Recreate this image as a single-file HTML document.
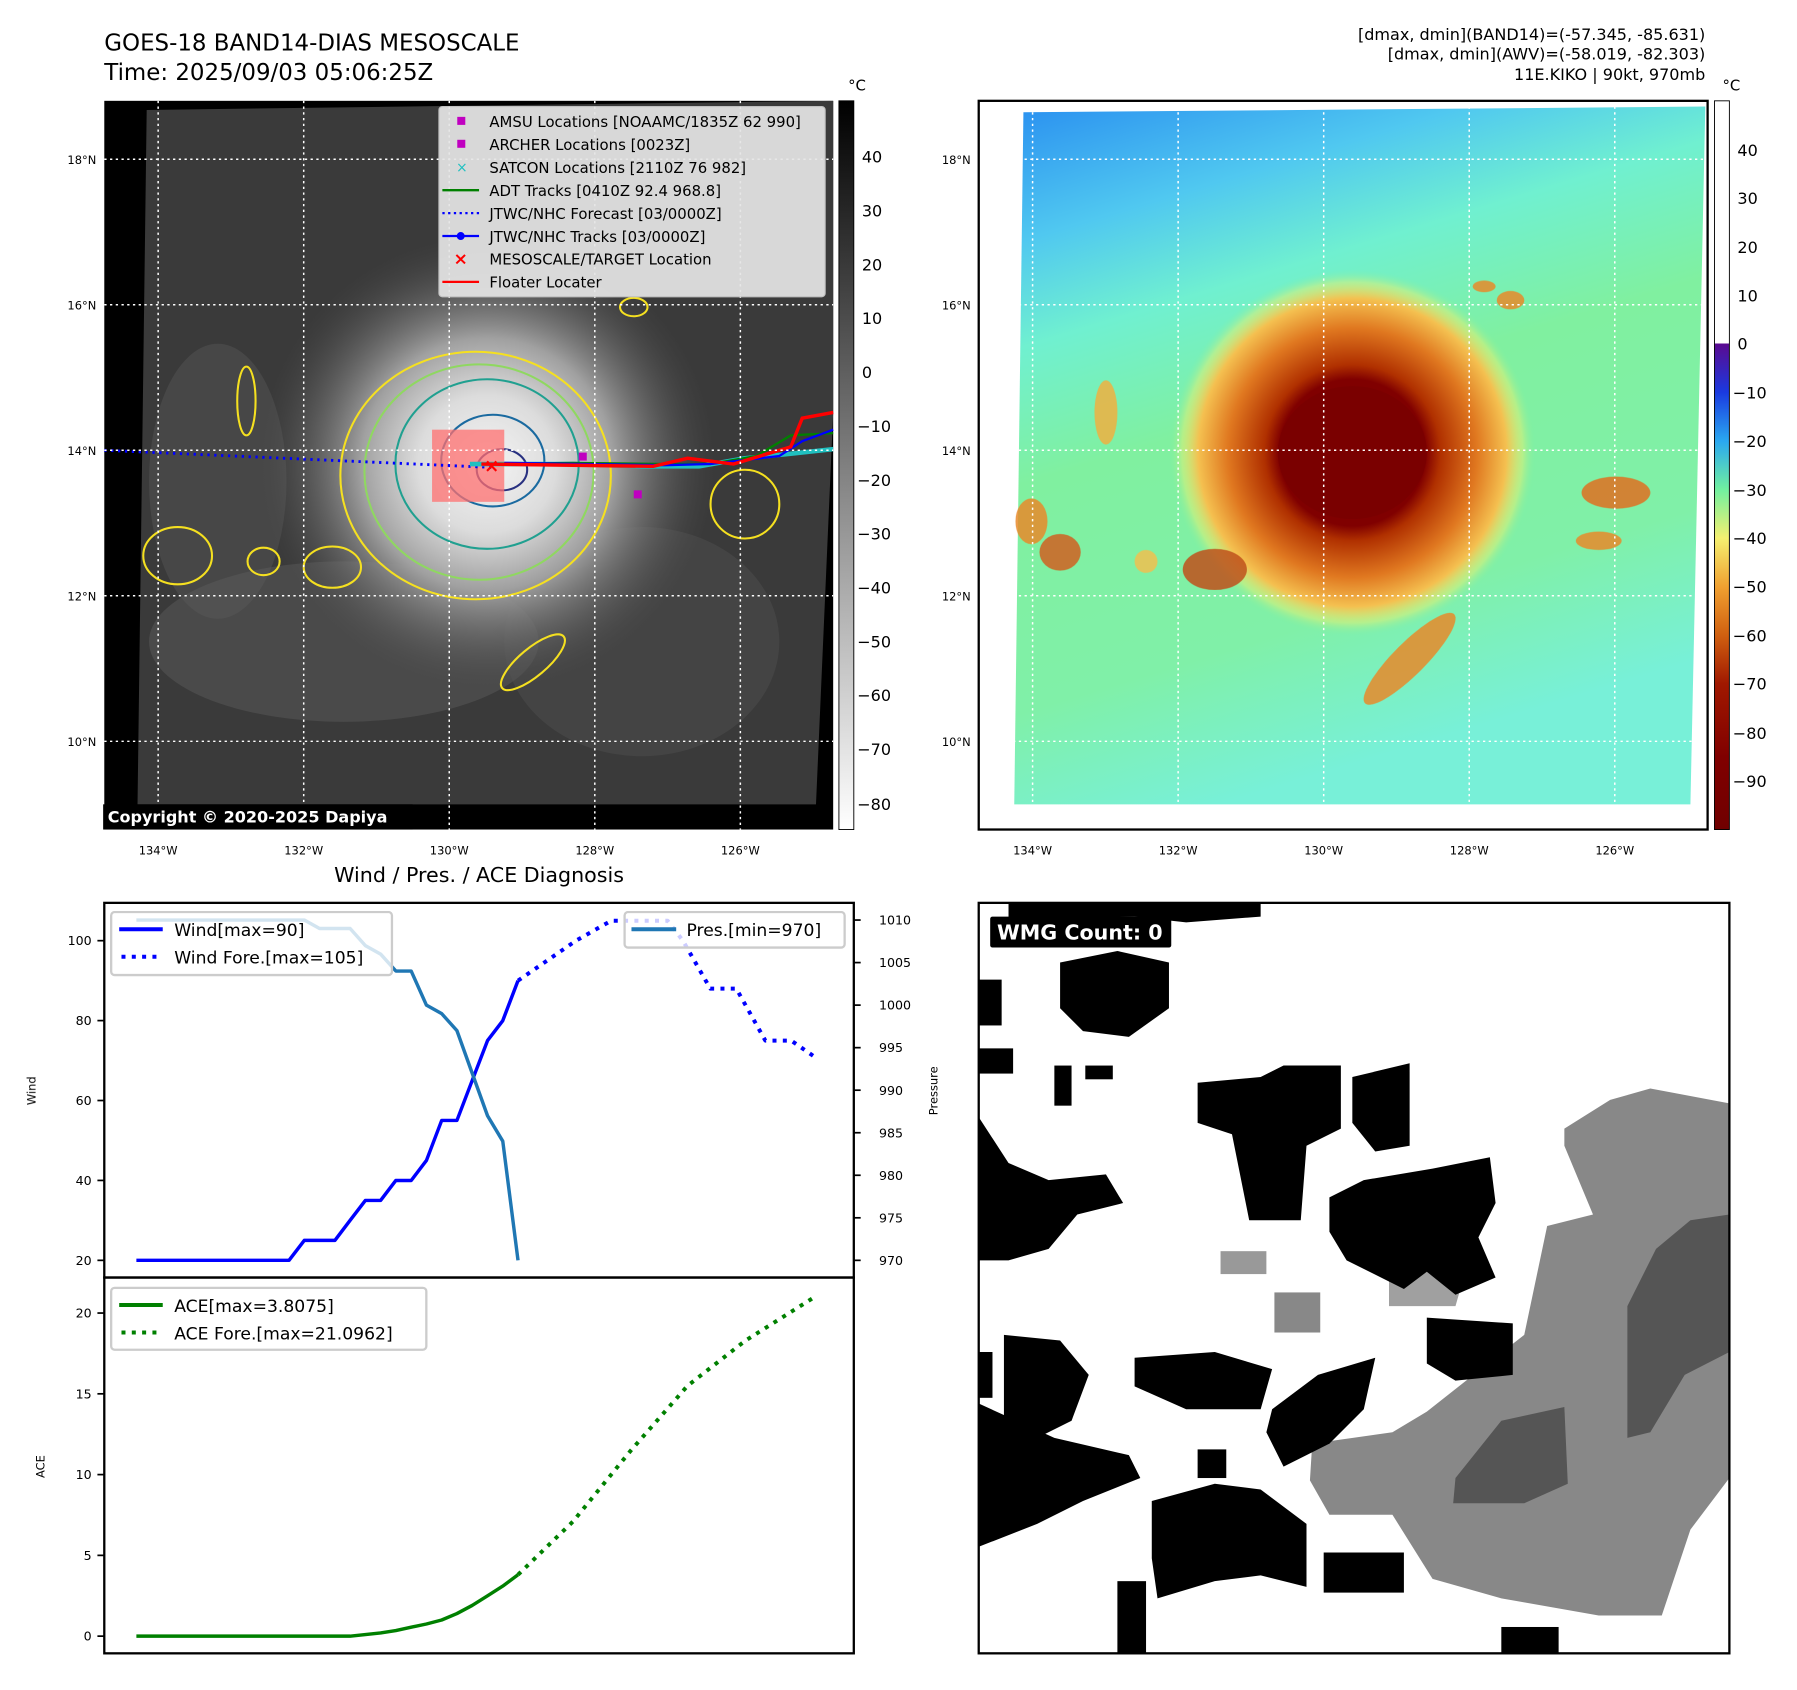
<!DOCTYPE html>
<html><head><meta charset="utf-8"><style>
html,body{margin:0;padding:0;background:#fff;}
svg{display:block;font-family:"DejaVu Sans","Liberation Sans",sans-serif;}
</style></head><body>
<svg id="fig" width="1797" height="1690" viewBox="0 0 1568 1475" preserveAspectRatio="none">
<defs>
<radialGradient id="cloud" cx="425" cy="405" r="200" gradientUnits="userSpaceOnUse">
<stop offset="0" stop-color="#f4f4f4"/><stop offset="0.3" stop-color="#dcdcdc"/><stop offset="0.55" stop-color="#a0a0a0"/><stop offset="1" stop-color="#4a4a4a" stop-opacity="0"/></radialGradient>
<linearGradient id="cbgray" x1="0" y1="0" x2="0" y2="1"><stop offset="0" stop-color="#000"/><stop offset="1" stop-color="#fff"/></linearGradient>
<linearGradient id="cbcol" x1="0" y1="0" x2="0" y2="1">
<stop offset="0" stop-color="#fff"/><stop offset="0.333" stop-color="#fff"/><stop offset="0.333" stop-color="#5a0a90"/>
<stop offset="0.4" stop-color="#1a3ae0"/><stop offset="0.467" stop-color="#2aa8f0"/><stop offset="0.533" stop-color="#70f0a0"/>
<stop offset="0.6" stop-color="#f4f070"/><stop offset="0.667" stop-color="#f0a030"/><stop offset="0.733" stop-color="#d06010"/>
<stop offset="0.8" stop-color="#a01800"/><stop offset="0.9" stop-color="#800000"/><stop offset="1" stop-color="#700000"/></linearGradient>
<linearGradient id="skybg" x1="0" y1="0" x2="0.3" y2="1">
<stop offset="0" stop-color="#2a90f0"/><stop offset="0.18" stop-color="#50c8f0"/><stop offset="0.32" stop-color="#70f0d0"/><stop offset="0.5" stop-color="#80f0a0"/><stop offset="0.8" stop-color="#80f0a8"/><stop offset="1" stop-color="#78f0d8"/></linearGradient>
<radialGradient id="storm" cx="1180" cy="395" r="160" gradientUnits="userSpaceOnUse">
<stop offset="0" stop-color="#7a0000"/><stop offset="0.4" stop-color="#800000"/><stop offset="0.48" stop-color="#b03000"/><stop offset="0.68" stop-color="#e07820"/><stop offset="0.84" stop-color="#f4c050"/><stop offset="0.93" stop-color="#e8f070" stop-opacity="0.5"/><stop offset="1" stop-color="#80f0a0" stop-opacity="0"/></radialGradient>
</defs>

<text x="91" y="44" font-size="20">GOES-18 BAND14-DIAS MESOSCALE</text>
<text x="91" y="70" font-size="20">Time: 2025/09/03 05:06:25Z</text>
<g font-size="14" text-anchor="end">
<text x="1488" y="35">[dmax, dmin](BAND14)=(-57.345, -85.631)</text>
<text x="1488" y="52">[dmax, dmin](AWV)=(-58.019, -82.303)</text>
<text x="1488" y="70">11E.KIKO | 90kt, 970mb</text></g>

<g>
<rect x="91" y="88" width="636" height="636" fill="#000"/>
<polygon points="128,96 727,88 727,360 712,702 120,702 124,400" fill="#3a3a3a"/>
<ellipse cx="300" cy="560" rx="170" ry="70" fill="#5a5a5a" opacity="0.5"/>
<ellipse cx="560" cy="560" rx="120" ry="100" fill="#555" opacity="0.4"/>
<ellipse cx="190" cy="420" rx="60" ry="120" fill="#5c5c5c" opacity="0.4"/>
<circle cx="425" cy="405" r="200" fill="url(#cloud)"/>
<g fill="none" stroke-width="1.8">
<ellipse cx="415" cy="415" rx="118" ry="108" stroke="#f5e020"/>
<ellipse cx="418" cy="412" rx="100" ry="94" stroke="#8fd860"/>
<ellipse cx="425" cy="405" rx="80" ry="74" stroke="#20a090"/>
<ellipse cx="430" cy="402" rx="45" ry="40" stroke="#1a6aa0"/>
<ellipse cx="438" cy="410" rx="22" ry="18" stroke="#283080"/>
<ellipse cx="155" cy="485" rx="30" ry="25" stroke="#f5e020"/>
<ellipse cx="290" cy="495" rx="25" ry="18" stroke="#f5e020"/>
<ellipse cx="650" cy="440" rx="30" ry="30" stroke="#f5e020"/>
<ellipse cx="465" cy="578" rx="35" ry="12" transform="rotate(-40 465 578)" stroke="#f5e020"/>
<ellipse cx="553" cy="268" rx="12" ry="8" stroke="#f5e020"/>
<ellipse cx="215" cy="350" rx="8" ry="30" stroke="#f5e020"/>
<ellipse cx="230" cy="490" rx="14" ry="12" stroke="#f5e020"/>
</g>
<rect x="377" y="375" width="63" height="63" fill="#ff7070" opacity="0.75"/>
<line x1="91" y1="393" x2="430" y2="408" stroke="#0000ff" stroke-width="2.5" stroke-dasharray="2 4"/>
<polyline points="410,405 500,405 560,407 610,407 650,400 690,396 727,392" fill="none" stroke="#20c0c0" stroke-width="4"/>
<polyline points="425,405 500,404 580,405 620,405 660,398 690,380 727,378" fill="none" stroke="#008000" stroke-width="2"/>
<polyline points="440,404 580,406 620,405 680,398 700,385 727,375" fill="none" stroke="#0000ff" stroke-width="2"/>
<polyline points="420,405 570,407 600,400 640,405 690,390 700,365 727,360" fill="none" stroke="#ff0000" stroke-width="3"/>
<rect x="505" y="395" width="7" height="7" fill="#c000c0"/><rect x="553" y="428" width="7" height="7" fill="#c000c0"/>
<text x="429" y="412" fill="#f00" font-size="16" font-weight="bold" text-anchor="middle">×</text>
<g stroke="#fff" stroke-width="1.3" stroke-dasharray="2 3">
<line x1="138" y1="88" x2="138" y2="724"/><line x1="265" y1="88" x2="265" y2="724"/><line x1="392" y1="88" x2="392" y2="724"/><line x1="519" y1="88" x2="519" y2="724"/><line x1="646" y1="88" x2="646" y2="724"/>
<line x1="91" y1="139" x2="727" y2="139"/><line x1="91" y1="266" x2="727" y2="266"/><line x1="91" y1="393" x2="727" y2="393"/><line x1="91" y1="520" x2="727" y2="520"/><line x1="91" y1="647" x2="727" y2="647"/></g>
<rect x="90" y="702" width="270" height="22" fill="#000"/>
<text x="94" y="718" fill="#fff" font-size="14" font-weight="bold">Copyright © 2020-2025 Dapiya</text>
</g>
<g font-size="13">
<rect x="383" y="93" width="337" height="166" fill="#e6e6e6" opacity="0.92" stroke="#ccc" rx="3"/>
<rect x="399" y="102" width="7" height="7" fill="#c000c0"/><text x="427" y="111">AMSU Locations [NOAAMC/1835Z 62 990]</text>
<rect x="399" y="122" width="7" height="7" fill="#c000c0"/><text x="427" y="131">ARCHER Locations [0023Z]</text>
<text x="403" y="150" fill="#20c0c0" font-size="12" text-anchor="middle">×</text><text x="427" y="151">SATCON Locations [2110Z 76 982]</text>
<line x1="386" y1="166" x2="418" y2="166" stroke="#008000" stroke-width="2"/><text x="427" y="171">ADT Tracks [0410Z 92.4 968.8]</text>
<line x1="386" y1="186" x2="418" y2="186" stroke="#0000ff" stroke-width="2" stroke-dasharray="2 3"/><text x="427" y="191">JTWC/NHC Forecast [03/0000Z]</text>
<line x1="386" y1="206" x2="418" y2="206" stroke="#0000ff" stroke-width="2"/><circle cx="402" cy="206" r="3.5" fill="#0000ff"/><text x="427" y="211">JTWC/NHC Tracks [03/0000Z]</text>
<text x="402" y="231" fill="#f00" font-size="15" font-weight="bold" text-anchor="middle">×</text><text x="427" y="231">MESOSCALE/TARGET Location</text>
<line x1="386" y1="246" x2="418" y2="246" stroke="#ff0000" stroke-width="2"/><text x="427" y="251">Floater Locater</text>
</g>
<g font-size="14">
<rect x="732" y="88" width="13" height="636" fill="url(#cbgray)" stroke="#000" stroke-width="0.8"/>
<text x="740" y="79" font-size="13">°C</text>
<text x="752" y="142">40</text><text x="752" y="189">30</text><text x="752" y="236">20</text><text x="752" y="283">10</text><text x="752" y="330">0</text><text x="748" y="377">−10</text><text x="748" y="424">−20</text><text x="748" y="471">−30</text><text x="748" y="518">−40</text><text x="748" y="565">−50</text><text x="748" y="612">−60</text><text x="748" y="659">−70</text><text x="748" y="707">−80</text>
</g>
<g font-size="10">
<g text-anchor="end"><text x="84" y="143">18°N</text><text x="84" y="270">16°N</text><text x="84" y="397">14°N</text><text x="84" y="524">12°N</text><text x="84" y="651">10°N</text></g>
<g text-anchor="middle"><text x="138" y="746">134°W</text><text x="265" y="746">132°W</text><text x="392" y="746">130°W</text><text x="519" y="746">128°W</text><text x="646" y="746">126°W</text></g>
</g>

<g>
<polygon points="893,98 1488,93 1475,702 885,702" fill="url(#skybg)"/>
<circle cx="1180" cy="395" r="160" fill="url(#storm)"/>
<g fill="#e88a2a" opacity="0.85">
<ellipse cx="1060" cy="497" rx="28" ry="18" fill="#c0501a"/>
<ellipse cx="925" cy="482" rx="18" ry="16" fill="#d06020"/>
<ellipse cx="900" cy="455" rx="14" ry="20"/>
<ellipse cx="1230" cy="575" rx="55" ry="14" transform="rotate(-45 1230 575)"/>
<ellipse cx="1410" cy="430" rx="30" ry="14" fill="#e07020"/>
<ellipse cx="1395" cy="472" rx="20" ry="8"/>
<ellipse cx="1318" cy="262" rx="12" ry="8"/><ellipse cx="1295" cy="250" rx="10" ry="5"/>
<ellipse cx="965" cy="360" rx="10" ry="28" fill="#f0b040"/>
<ellipse cx="1000" cy="490" rx="10" ry="10" fill="#f0c050"/>
</g>
<ellipse cx="1180" cy="395" rx="65" ry="58" fill="#7a0000"/>
<g stroke="#fff" stroke-width="1.3" stroke-dasharray="2 3">
<line x1="901" y1="88" x2="901" y2="724"/><line x1="1028" y1="88" x2="1028" y2="724"/><line x1="1155" y1="88" x2="1155" y2="724"/><line x1="1282" y1="88" x2="1282" y2="724"/><line x1="1409" y1="88" x2="1409" y2="724"/>
<line x1="854" y1="139" x2="1490" y2="139"/><line x1="854" y1="266" x2="1490" y2="266"/><line x1="854" y1="393" x2="1490" y2="393"/><line x1="854" y1="520" x2="1490" y2="520"/><line x1="854" y1="647" x2="1490" y2="647"/></g>
<rect x="854" y="88" width="636" height="636" fill="none" stroke="#000" stroke-width="2"/>
</g>
<g font-size="14">
<rect x="1496" y="88" width="13" height="636" fill="url(#cbcol)" stroke="#000" stroke-width="0.8"/>
<text x="1503" y="79" font-size="13">°C</text>
<text x="1516" y="136">40</text><text x="1516" y="178">30</text><text x="1516" y="221">20</text><text x="1516" y="263">10</text><text x="1516" y="305">0</text><text x="1512" y="348">−10</text><text x="1512" y="390">−20</text><text x="1512" y="433">−30</text><text x="1512" y="475">−40</text><text x="1512" y="517">−50</text><text x="1512" y="560">−60</text><text x="1512" y="602">−70</text><text x="1512" y="645">−80</text><text x="1512" y="687">−90</text>
</g>
<g font-size="10">
<g text-anchor="end"><text x="847" y="143">18°N</text><text x="847" y="270">16°N</text><text x="847" y="397">14°N</text><text x="847" y="524">12°N</text><text x="847" y="651">10°N</text></g>
<g text-anchor="middle"><text x="901" y="746">134°W</text><text x="1028" y="746">132°W</text><text x="1155" y="746">130°W</text><text x="1282" y="746">128°W</text><text x="1409" y="746">126°W</text></g>
</g>

<g>
<rect x="854" y="788" width="655" height="655" fill="#fff"/>
<polygon points="1365,985 1405,960 1440,950 1509,963 1509,1290 1475,1335 1450,1410 1395,1410 1310,1395 1250,1378 1215,1322 1160,1322 1143,1292 1145,1260 1215,1250 1245,1232 1330,1165 1350,1070 1390,1060 1365,1000" fill="#888"/>
<polygon points="1420,1140 1445,1090 1475,1065 1509,1060 1509,1180 1470,1200 1440,1250 1420,1255" fill="#555"/>
<polygon points="1270,1290 1310,1240 1365,1228 1368,1295 1330,1312 1268,1312" fill="#555"/>
<polygon points="1212,1090 1260,1060 1290,1070 1270,1140 1212,1140" fill="#a0a0a0"/>
<rect x="1112" y="1128" width="40" height="35" fill="#888"/>
<rect x="1065" y="1092" width="40" height="20" fill="#999"/>
<g fill="#000">
<polygon points="880,788 1100,788 1100,800 1035,805 990,800 880,803"/>
<polygon points="925,840 975,830 1020,840 1020,880 985,905 945,900 925,880"/>
<rect x="854" y="855" width="20" height="40"/><rect x="854" y="915" width="30" height="22"/>
<rect x="920" y="930" width="15" height="35"/><rect x="947" y="930" width="24" height="12"/>
<polygon points="854,975 880,1015 915,1030 965,1025 980,1050 940,1060 915,1090 880,1100 854,1100"/>
<polygon points="1045,945 1100,940 1120,930 1170,930 1170,985 1140,1000 1135,1065 1090,1065 1075,990 1045,980"/>
<polygon points="1180,940 1230,928 1230,1000 1200,1005 1180,980"/>
<polygon points="1160,1045 1190,1030 1250,1020 1300,1010 1305,1050 1290,1080 1305,1115 1270,1130 1245,1110 1225,1125 1175,1100 1160,1075"/>
<polygon points="1245,1150 1320,1155 1320,1200 1270,1205 1245,1190"/>
<polygon points="876,1165 925,1170 950,1200 935,1240 895,1260 876,1260"/>
<polygon points="854,1225 920,1255 985,1270 995,1290 945,1310 905,1330 854,1350"/>
<polygon points="990,1185 1060,1180 1110,1195 1100,1230 1035,1230 990,1210"/>
<polygon points="1110,1230 1150,1200 1200,1185 1190,1230 1160,1260 1120,1280 1105,1250"/>
<polygon points="1005,1310 1060,1295 1100,1300 1140,1330 1140,1385 1100,1375 1060,1380 1010,1395 1005,1360"/>
<rect x="1155" y="1355" width="70" height="35"/>
<rect x="975" y="1380" width="25" height="63"/>
<rect x="1310" y="1420" width="50" height="23"/>
<rect x="1045" y="1265" width="25" height="25"/>
<rect x="854" y="1180" width="12" height="40"/>
</g>
<rect x="854" y="788" width="655" height="655" fill="none" stroke="#000" stroke-width="2"/>
<rect x="864" y="800" width="158" height="27" fill="#000" rx="2"/>
<text x="870" y="820" fill="#fff" font-size="18" font-weight="bold">WMG Count: 0</text>
</g>

<text x="418" y="770" font-size="18" text-anchor="middle">Wind / Pres. / ACE Diagnosis</text>
<g id="chart">
<rect x="91" y="788" width="654" height="327" fill="none" stroke="#000" stroke-width="2"/>
<rect x="91" y="1115" width="654" height="328" fill="none" stroke="#000" stroke-width="2"/>
<text x="31" y="952" font-size="10" text-anchor="middle" transform="rotate(-90 31 952)">Wind</text>
<text x="818" y="952" font-size="10" text-anchor="middle" transform="rotate(-90 818 952)">Pressure</text>
<text x="39" y="1280" font-size="10" text-anchor="middle" transform="rotate(-90 39 1280)">ACE</text>
<g id="marks"></g>
<g font-size="15">
<rect x="97" y="796" width="245" height="55" fill="#fff" fill-opacity="0.8" stroke="#ccc" stroke-width="2" rx="3"/>
<line x1="104" y1="811" x2="142" y2="811" stroke="#0000ff" stroke-width="3.5"/><text x="152" y="817">Wind[max=90]</text>
<line x1="106" y1="835" x2="142" y2="835" stroke="#0000ff" stroke-width="3.5" stroke-dasharray="3.5 5.5"/><text x="152" y="841">Wind Fore.[max=105]</text>
</g>
<g font-size="15">
<rect x="545" y="796" width="192" height="31" fill="#fff" fill-opacity="0.8" stroke="#ccc" stroke-width="2" rx="3"/>
<line x1="551" y1="811" x2="590" y2="811" stroke="#1f77b4" stroke-width="3.5"/><text x="599" y="817">Pres.[min=970]</text>
</g>
<g font-size="15">
<rect x="97" y="1124" width="275" height="54" fill="#fff" fill-opacity="0.8" stroke="#ccc" stroke-width="2" rx="3"/>
<line x1="104" y1="1139" x2="142" y2="1139" stroke="#008000" stroke-width="3.5"/><text x="152" y="1145">ACE[max=3.8075]</text>
<line x1="106" y1="1163" x2="142" y2="1163" stroke="#008000" stroke-width="3.5" stroke-dasharray="3.5 5.5"/><text x="152" y="1169">ACE Fore.[max=21.0962]</text>
</g>
</g>

<script>
const windTicks = [20, 40, 60, 80, 100];
const presTicks = [970, 975, 980, 985, 990, 995, 1000, 1005, 1010];
const aceTicks = [0, 5, 10, 15, 20];
const windObs = [20,20,20,20,20,20,20,20,20,20,20,25,25,25,30,35,35,40,40,45,55,55,65,75,80,90];
const presObs = [1010,1010,1010,1010,1010,1010,1010,1010,1010,1010,1010,1010,1009,1009,1009,1007,1006,1004,1004,1000,999,997,992,987,984,970];
const aceObs = [0,0,0,0,0,0,0,0,0,0,0,0,0,0,0,0.1,0.2,0.35,0.55,0.75,1.0,1.4,1.9,2.5,3.1,3.8];
const foreIdx = [25, 28.8, 31.1, 34.8, 35.8, 37.6, 39.3, 41.2, 42.9, 44.4];
const windFore = [90, 100, 105, 105, 100, 88, 88, 75, 75, 71];
const aceForeIdx = [25, 28.6, 32.4, 36.1, 39.9, 44.6];
const aceFore = [3.8, 7.1, 11.5, 15.5, 18.3, 21.1];

const NS = 'http://www.w3.org/2000/svg';
const xS = i => 119 + i * 13.32;
const yWind = v => 1100 - (v - 20) * 3.4875;
const yPres = p => 1100 - (p - 970) * 7.425;
const yAce = v => 1428 - v * 14.1;
const marks = document.getElementById('marks');
function mk(tag, attrs){ const e=document.createElementNS(NS,tag); for(const k in attrs) e.setAttribute(k, attrs[k]); marks.appendChild(e); return e; }
function line(xs, ys, color, w, dash){
  const pts = xs.map((x,i)=>x.toFixed(1)+','+ys[i].toFixed(1)).join(' ');
  const a = {points:pts, fill:'none', stroke:color, 'stroke-width':w, 'stroke-linejoin':'round'};
  if (dash) a['stroke-dasharray']=dash;
  return mk('polyline', a);
}
let e;
e = line(windObs.map((v,i)=>xS(i)), windObs.map(yWind), '#0000ff', 3);


e = line(foreIdx.map(xS), windFore.map(yWind), '#0000ff', 3.5, '3.5 5.5');


e = line(presObs.map((v,i)=>xS(i)), presObs.map(yPres), '#1f77b4', 3);


e = line(aceObs.map((v,i)=>xS(i)), aceObs.map(yAce), '#008000', 3);


e = line(aceForeIdx.map(xS), aceFore.map(yAce), '#008000', 3.5, '3.5 5.5');


function tick(x1,x2,y,label,tx,anchor,name){
  const t = mk('line',{x1:x1,x2:x2,y1:y,y2:y,stroke:'#000','stroke-width':1.5});
  
  
  const s = mk('text',{x:tx,y:y+4,'font-size':11,'text-anchor':anchor});
  s.textContent = label;
  
  
}
windTicks.forEach(v=>tick(85,91,yWind(v),String(v),80,'end','wind'));
presTicks.forEach(v=>tick(745,751,yPres(v),String(v),767,'start','pressure'));
aceTicks.forEach(v=>tick(85,91,yAce(v),String(v),80,'end','ace'));
</script>
</svg>
</body></html>
